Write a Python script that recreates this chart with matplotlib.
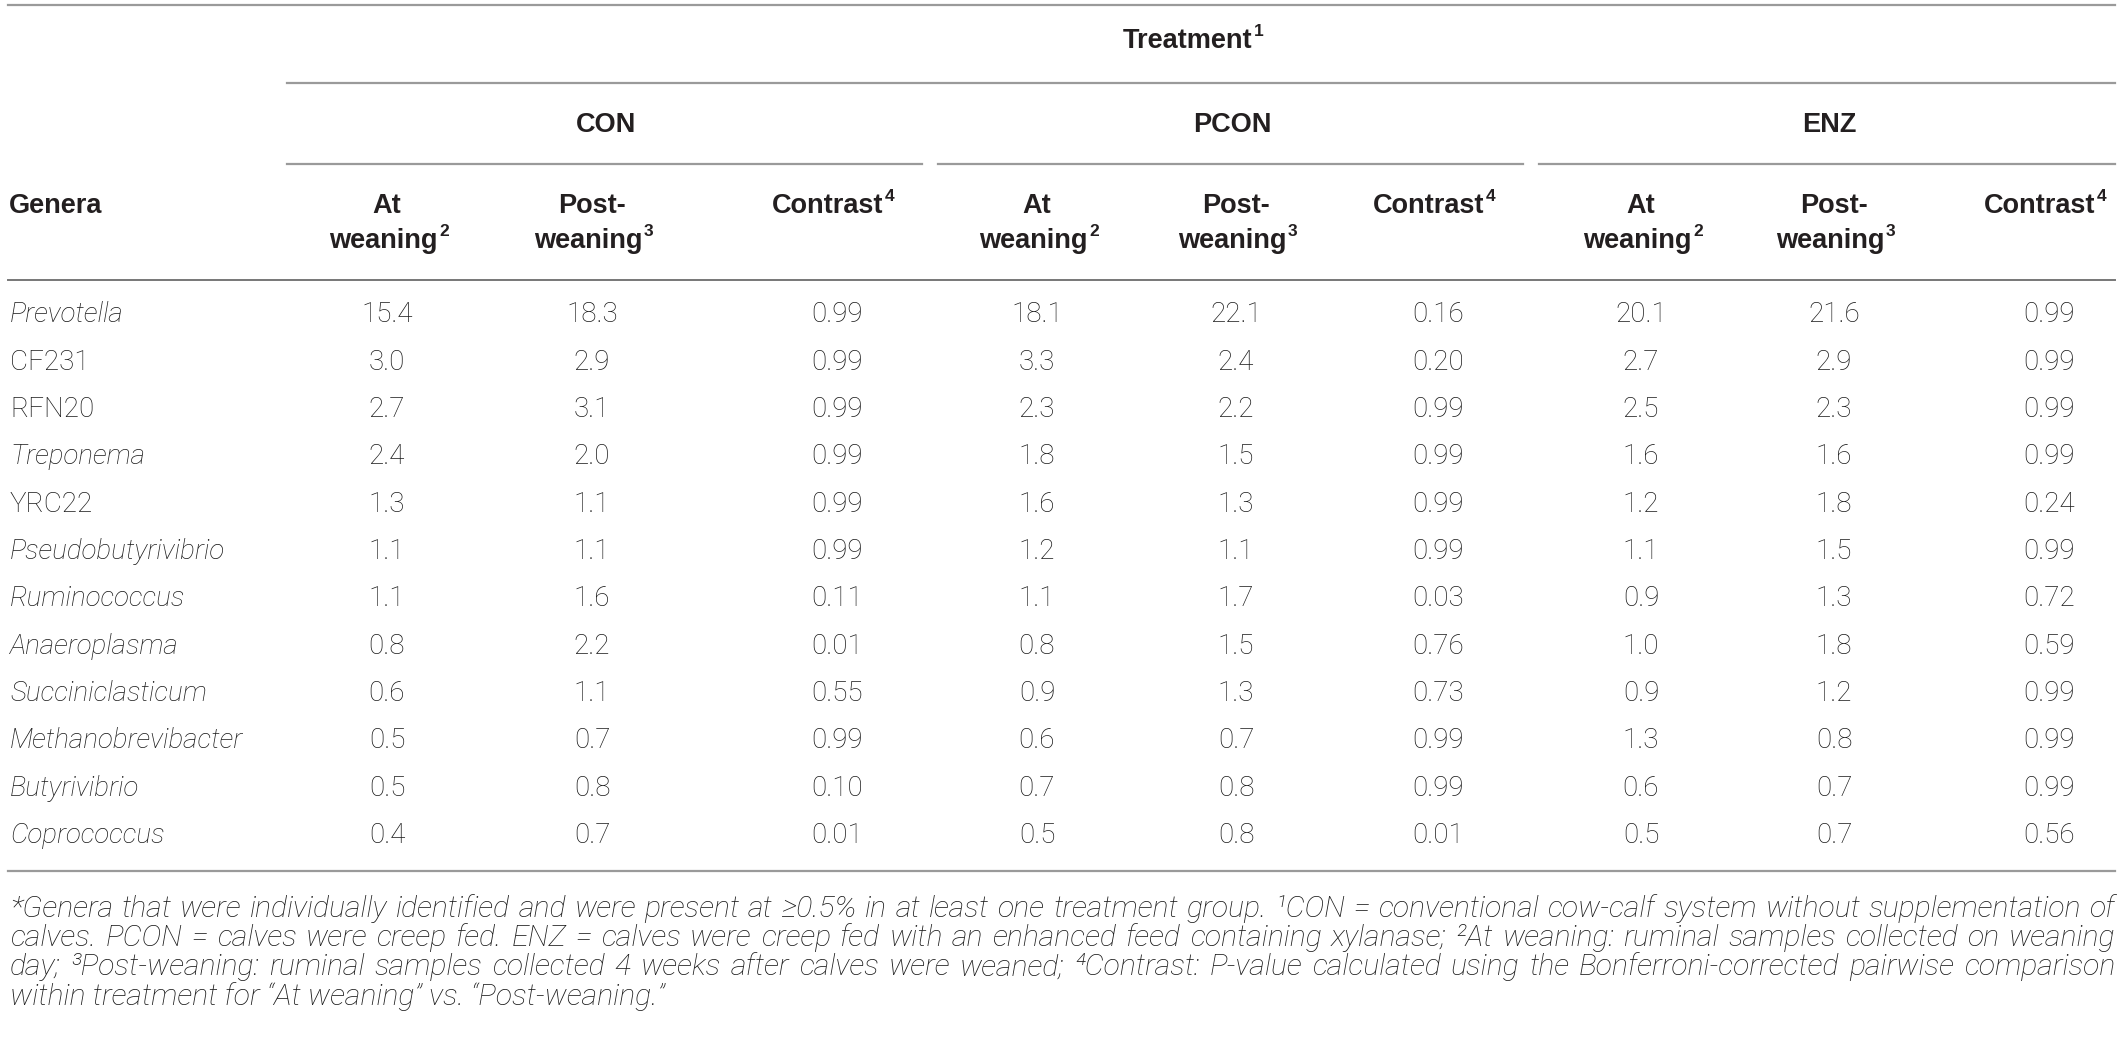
import matplotlib
matplotlib.use("Agg")
import matplotlib.pyplot as plt

# table values (relative abundance, %)
genera = ["Prevotella", "CF231", "RFN20", "Treponema", "YRC22", "Pseudobutyrivibrio",
          "Ruminococcus", "Anaeroplasma", "Succiniclasticum", "Methanobrevibacter",
          "Butyrivibrio", "Coprococcus"]
italic_genus = [True, False, False, True, False, True, True, True, True, True, True, True]

con_at = [15.4, 3.0, 2.7, 2.4, 1.3, 1.1, 1.1, 0.8, 0.6, 0.5, 0.5, 0.4]
con_post = [18.3, 2.9, 3.1, 2.0, 1.1, 1.1, 1.6, 2.2, 1.1, 0.7, 0.8, 0.7]
con_p = [0.99, 0.99, 0.99, 0.99, 0.99, 0.99, 0.11, 0.01, 0.55, 0.99, 0.10, 0.01]
pcon_at = [18.1, 3.3, 2.3, 1.8, 1.6, 1.2, 1.1, 0.8, 0.9, 0.6, 0.7, 0.5]
pcon_post = [22.1, 2.4, 2.2, 1.5, 1.3, 1.1, 1.7, 1.5, 1.3, 0.7, 0.8, 0.8]
pcon_p = [0.16, 0.20, 0.99, 0.99, 0.99, 0.99, 0.03, 0.76, 0.73, 0.99, 0.99, 0.01]
enz_at = [20.1, 2.7, 2.5, 1.6, 1.2, 1.1, 0.9, 1.0, 0.9, 1.3, 0.6, 0.5]
enz_post = [21.6, 2.9, 2.3, 1.6, 1.8, 1.5, 1.3, 1.8, 1.2, 0.8, 0.7, 0.7]
enz_p = [0.99, 0.99, 0.99, 0.99, 0.24, 0.99, 0.72, 0.59, 0.99, 0.99, 0.99, 0.56]

groups = ["CON", "PCON", "ENZ"]
# (first line, second line, superscript)
sub_headers = [("At", "weaning", "2"), ("Post-", "weaning", "3"), ("Contrast", None, "4")]

footnote = [
    "*Genera that were individually identified and were present at ≥0.5% in at least one treatment group. "
    "¹CON = conventional cow-calf system without supplementation of",
    "calves. PCON = calves were creep fed. ENZ = calves were creep fed with an enhanced feed containing "
    "xylanase; ²At weaning: ruminal samples collected on weaning",
    "day; ³Post-weaning: ruminal samples collected 4 weeks after calves were weaned; ⁴Contrast: P-value "
    "calculated using the Bonferroni-corrected pairwise comparison",
    "within treatment for “At weaning” vs. “Post-weaning.”",
]

W, H = 2123, 1037
fig = plt.figure(figsize=(W / 100, H / 100), dpi=100)
ax = fig.add_axes([0, 0, 1, 1])
ax.set_xlim(0, W)
ax.set_ylim(H, 0)
ax.axis("off")
renderer = fig.canvas.get_renderer()

txt = "#231f20"
head_font = ["Liberation Sans", "DejaVu Sans"]
body_font = ["Roboto", "DejaVu Sans"]

left, right = 8, 2115
group_span = [(287, 922), (938, 1523), (1539, 2115)]
col_x = [387, 592, 837, 1037, 1236, 1438, 1641, 1834, 2049]

# rules
ax.plot([left, right], [5, 5], color="#9a9a9a", lw=1.6)
ax.plot([287, right], [83, 83], color="#9a9a9a", lw=1.6)
for x0, x1 in group_span:
    ax.plot([x0, x1], [164, 164], color="#9a9a9a", lw=1.6)
ax.plot([left, right], [280, 280], color="#777777", lw=1.4)
ax.plot([left, right], [871, 871], color="#9a9a9a", lw=1.6)

HS = 19.5
hk = dict(family=head_font, fontweight="bold", color=txt, va="center")


def head(x, y, base, sup=None, ha="center"):
    t = ax.text(x, y, base, ha="left", fontsize=HS, **hk)
    bw = t.get_window_extent(renderer).width
    sw = 0
    if sup:
        s = ax.text(x, y - HS * 1.389 * 0.36, sup, ha="left", fontsize=HS * 0.64, **hk)
        sw = s.get_window_extent(renderer).width + 1
    x0 = x - (bw + sw) / 2 if ha == "center" else x
    t.set_x(x0)
    if sup:
        s.set_x(x0 + bw + 1)


head(1193, 41, "Treatment", "1")
for g, (x0, x1) in zip(groups, group_span):
    ax.text((x0 + x1) / 2 + 2, 125, g, ha="center", fontsize=HS, **hk)
head(9, 206, "Genera", ha="left")
for i, x in enumerate(col_x):
    a, b, sup = sub_headers[i % 3]
    if b:
        head(x, 206, a)
        head(x + 2, 241, b, sup)
    else:
        head(x - 4, 206, a, sup)

# body rows
bk = dict(family=body_font, fontweight="light", fontsize=20, color="#1a1a1a", va="center")
cols = [con_at, con_post, con_p, pcon_at, pcon_post, pcon_p, enz_at, enz_post, enz_p]
fmts = ["{:.1f}", "{:.1f}", "{:.2f}"] * 3
row_y0, row_dy = 315, 47.3
for r, g in enumerate(genera):
    y = row_y0 + r * row_dy
    ax.text(10, y, g, ha="left", style="italic" if italic_genus[r] else "normal", **bk)
    for c, vals in enumerate(cols):
        ax.text(col_x[c], y, fmts[c].format(vals[r]), ha="center", **bk)

# footnote, justified like the printed table
fk = dict(family=body_font, fontweight="light", style="italic", fontsize=17.5, color="#1a1a1a", va="center")
probe = ax.text(0, 0, footnote[0], **fk)
full_w = probe.get_window_extent(renderer).width
probe.remove()
fk["fontsize"] = 17.5 * (right - 10) / full_w * 0.985

for li, line in enumerate(footnote):
    y = 909 + li * 29.2
    if li == len(footnote) - 1:
        ax.text(10, y, line, ha="left", **fk)
        continue
    words = line.split(" ")
    arts = [ax.text(0, y, w, ha="left", **fk) for w in words]
    widths = [a.get_window_extent(renderer).width for a in arts]
    gap = (right - 10 - sum(widths)) / (len(words) - 1)
    x = 10
    for a, w in zip(arts, widths):
        a.set_x(x)
        x += w + gap

fig.savefig("out.png", dpi=100)
